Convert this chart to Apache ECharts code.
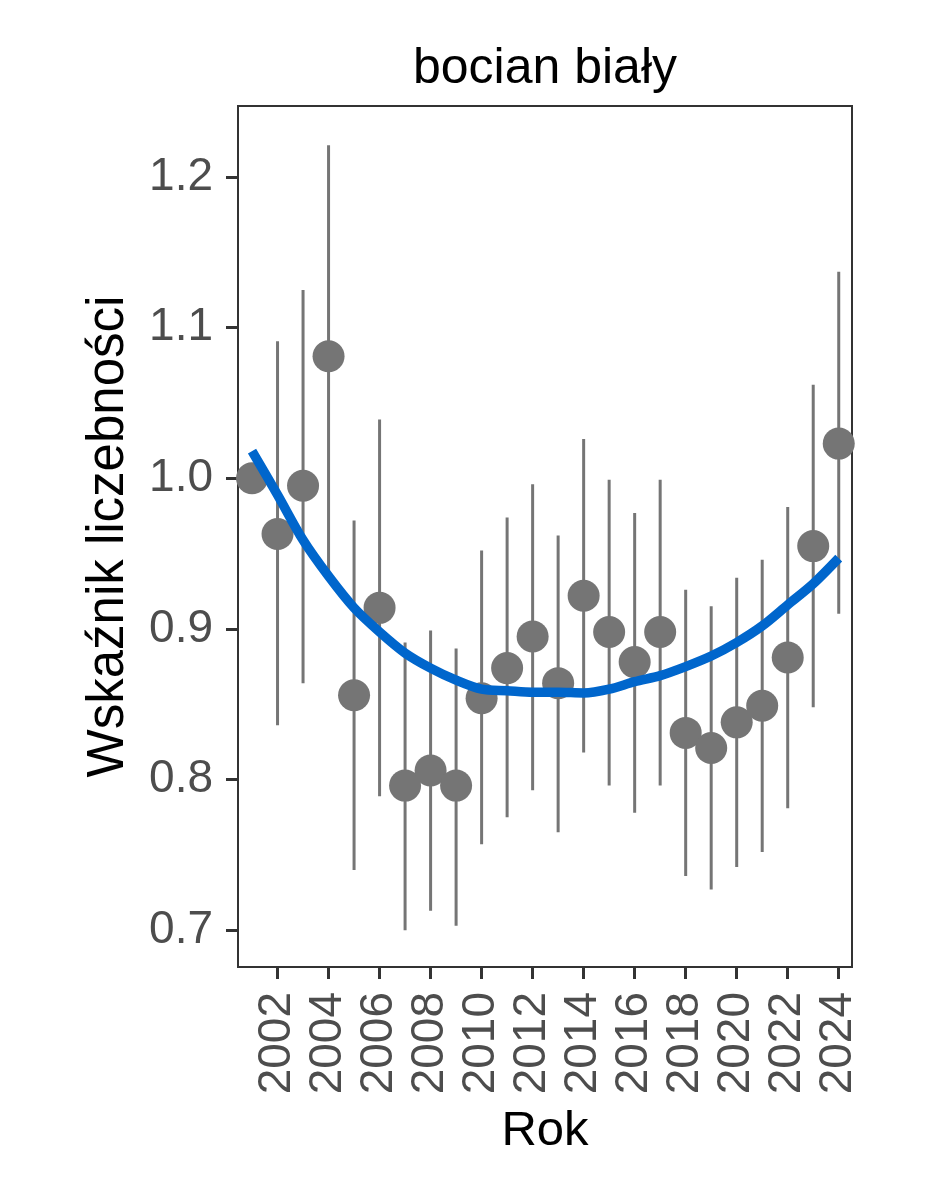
<!DOCTYPE html>
<html>
<head>
<meta charset="utf-8">
<script src="https://cdn.jsdelivr.net/npm/echarts@6/dist/echarts.min.js"></script>
<style>
html,body{margin:0;padding:0;background:#fff;}
#chart{width:944px;height:1181px;}
</style>
</head>
<body>
<div id="chart"></div>
<script>
const years = [2001,2002,2003,2004,2005,2006,2007,2008,2009,2010,2011,2012,2013,2014,2015,2016,2017,2018,2019,2020,2021,2022,2023,2024];
const index = [1.000,0.963,0.995,1.081,0.856,0.914,0.796,0.806,0.796,0.854,0.874,0.895,0.864,0.922,0.898,0.878,0.898,0.831,0.821,0.838,0.849,0.881,0.955,1.023];
const lower = [1.000,0.836,0.864,0.938,0.740,0.789,0.700,0.713,0.703,0.757,0.775,0.793,0.765,0.818,0.796,0.778,0.796,0.736,0.727,0.742,0.752,0.781,0.848,0.910];
const upper = [1.000,1.091,1.125,1.221,0.972,1.039,0.891,0.899,0.887,0.952,0.974,0.996,0.962,1.026,0.999,0.977,0.999,0.926,0.915,0.934,0.946,0.981,1.062,1.137];
const trend = [1.018,0.989,0.959,0.935,0.914,0.898,0.884,0.874,0.866,0.860,0.859,0.858,0.858,0.8575,0.860,0.865,0.869,0.875,0.882,0.891,0.902,0.916,0.930,0.947];
const xTicks = [2002,2004,2006,2008,2010,2012,2014,2016,2018,2020,2022,2024];
const yTicks = [0.7,0.8,0.9,1.0,1.1,1.2];
const title = 'bocian biały';
const xTitle = 'Rok';
const yTitle = 'Wskaźnik liczebności';

const chart = echarts.init(document.getElementById('chart'));
const FONT = '"Liberation Sans", Arial, sans-serif';
const errData = years.map((y,i)=>[y, lower[i], upper[i]]);
chart.setOption({
  animation:false,
  backgroundColor:'#fff',
  graphic:[{type:'text',x:545,y:44,style:{text:title,fontFamily:FONT,fontSize:50,fill:'#000',textAlign:'center',textVerticalAlign:'top'}}],
  grid:{left:238,right:92,top:106,bottom:214,show:true,borderColor:'#333',borderWidth:2,backgroundColor:'#fff'},
  xAxis:{type:'value',min:2000.45,max:2024.52,
    name:xTitle,nameLocation:'middle',nameGap:140,
    nameTextStyle:{fontFamily:FONT,fontSize:49,color:'#000'},
    axisLine:{show:false},
    splitLine:{show:false},
    axisTick:{show:true,customValues:xTicks,length:12,lineStyle:{color:'#333',width:3}},
    axisLabel:{customValues:xTicks,rotate:90,margin:25,fontFamily:FONT,fontSize:46,color:'#4D4D4D',
      formatter:v=>String(v)}
  },
  yAxis:{type:'value',min:0.6756,max:1.2471,
    name:yTitle,nameLocation:'middle',nameGap:104,nameRotate:90,
    nameTextStyle:{fontFamily:FONT,fontSize:51,color:'#000'},
    axisLine:{show:false},
    splitLine:{show:false},
    axisTick:{show:true,customValues:yTicks,length:12,lineStyle:{color:'#333',width:3}},
    axisLabel:{customValues:yTicks,margin:25,fontFamily:FONT,fontSize:46,color:'#4D4D4D',
      formatter:v=>v.toFixed(1)}
  },
  series:[
    {type:'custom',z:1,data:errData,
      renderItem:function(params,api){
        const x=api.value(0);
        const a=api.coord([x,api.value(1)]);
        const b=api.coord([x,api.value(2)]);
        return {type:'line',shape:{x1:a[0],y1:a[1],x2:b[0],y2:b[1]},
          style:{stroke:'#757575',lineWidth:3}};
      },
      encode:{x:0,y:[1,2]}
    },
    {type:'scatter',z:2,data:years.map((y,i)=>[y,index[i]]),symbolSize:32,
      itemStyle:{color:'#757575',opacity:1}},
    {type:'line',z:3,data:years.map((y,i)=>[y,trend[i]]),smooth:0.3,showSymbol:false,
      lineStyle:{color:'#0066CC',width:9.5}}
  ]
});
</script>
</body>
</html>
